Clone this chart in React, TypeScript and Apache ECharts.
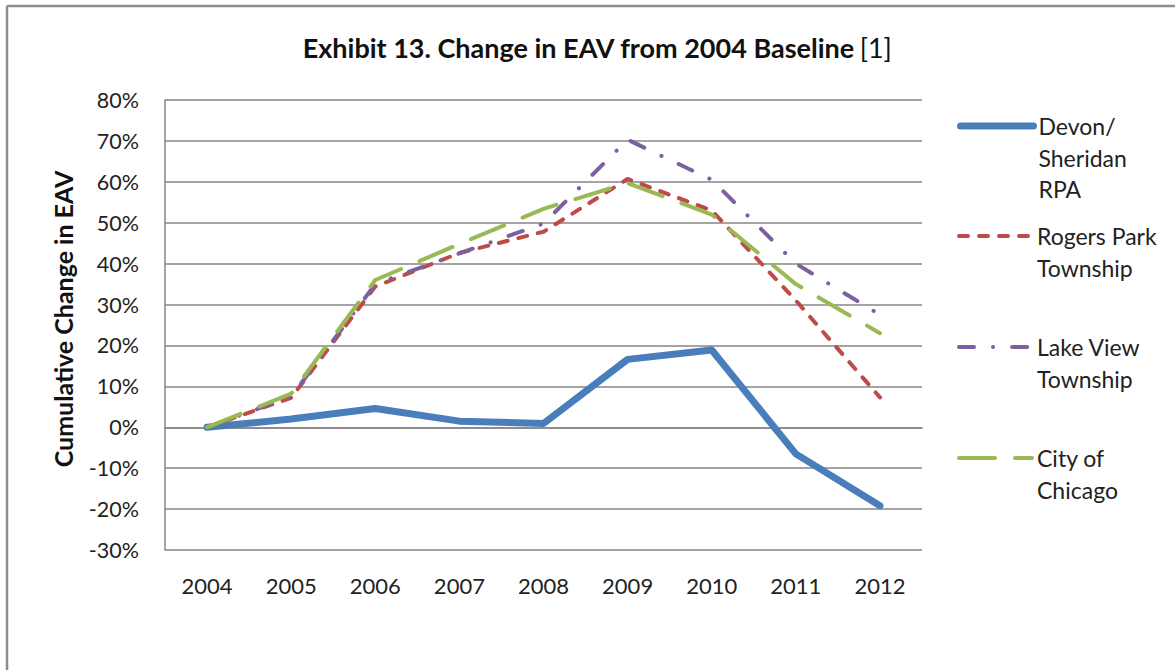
import React, { useEffect, useRef } from "react";
import * as echarts from "echarts";

const years = ["2004", "2005", "2006", "2007", "2008", "2009", "2010", "2011", "2012"];
const devonSheridan = [0, 2.0, 4.6, 1.5, 0.9, 16.6, 18.9, -6.5, -19.2];
const rogersPark = [0, 7.2, 34.4, 42.6, 47.8, 60.7, 53.0, 31.0, 7.3];
const lakeView = [0, 7.5, 35.0, 42.5, 49.8, 70.3, 60.5, 40.0, 27.5];
const cityOfChicago = [0, 8.2, 36.0, 44.8, 53.4, 59.7, 52.0, 35.0, 23.0];

const seriesNames = ["Devon/ Sheridan RPA", "Rogers Park Township", "Lake View Township", "City of Chicago"];
const legendLines = [["Devon/", "Sheridan", "RPA"], ["Rogers Park", "Township"], ["Lake View", "Township"], ["City of", "Chicago"]];
const yTicks = { min: -30, max: 80, interval: 10 };

const FONT = "Lato, 'Open Sans', sans-serif";
const L = 31.5;

export default function App() {
  const ref = useRef<HTMLDivElement>(null);
  useEffect(() => {
    if (!ref.current) return;
    const chart = echarts.init(ref.current, undefined, { renderer: "svg" });
    const legendTops = [126, 236, 347, 458];
    const legends = seriesNames.map((name, i) => {
      const lines = legendLines[i];
      const n = lines.length;
      return {
        data: [name],
        orient: "vertical",
        left: 957,
        top: legendTops[i] - ((2 * n - 1) * L) / 2,
        padding: 0,
        itemWidth: 73,
        itemHeight: 14,
        itemGap: 0,
        selectedMode: false,
        itemStyle: { opacity: 0, borderWidth: 0 },
        lineStyle: { width: "inherit", type: "inherit", cap: "round", opacity: 1 },
        formatter: () => "{sp| }\n" + lines.map((l) => "{t|" + l + "}").join("\n"),
        textStyle: {
          fontFamily: FONT,
          fontSize: 23,
          color: "#222",
          lineHeight: L,
          rich: {
            sp: { lineHeight: (n - 1) * L, height: (n - 1) * L, fontSize: 2 },
            t: { fontFamily: FONT, fontSize: 23, color: "#222", lineHeight: L },
          },
        },
      };
    });
    const mk = (name: string, data: number[], color: string, width: number, type: any, cap: string, z: number) => ({
      name,
      type: "line",
      data,
      symbol: "none",
      z,
      lineStyle: { color, width, type, cap, join: "round" },
      itemStyle: { color },
    });
    chart.setOption({
      animation: false,
      backgroundColor: "#ffffff",
      title: {
        text: "{b|Exhibit 13. Change in EAV from 2004 Baseline} {n|[1]}",
        left: 592,
        textAlign: "center",
        top: 29,
        textStyle: {
          rich: {
            b: { fontFamily: FONT, fontSize: 27, fontWeight: "bold", color: "#111" },
            n: { fontFamily: FONT, fontSize: 27, fontWeight: "normal", color: "#111" },
          },
        },
      },
      legend: legends,
      grid: { left: 165, top: 100, right: 253, bottom: 120, containLabel: false },
      xAxis: {
        type: "category",
        data: years,
        boundaryGap: true,
        axisLine: { show: true, lineStyle: { color: "#868686", width: 1.5 } },
        axisTick: { show: false },
        axisLabel: { fontFamily: FONT, fontSize: 22, color: "#222", margin: 24 },
      },
      yAxis: {
        type: "value",
        min: yTicks.min,
        max: yTicks.max,
        interval: yTicks.interval,
        name: "Cumulative Change in EAV",
        nameLocation: "middle",
        nameGap: 90,
        nameTextStyle: { fontFamily: FONT, fontSize: 25, fontWeight: "bold", color: "#111", padding: [0, 0, 0, 12] },
        axisLine: { show: true, lineStyle: { color: "#868686", width: 1.5 } },
        axisTick: { show: false },
        axisLabel: { fontFamily: FONT, fontSize: 21.5, color: "#222", margin: 26, formatter: "{value}%" },
        splitLine: { show: true, lineStyle: { color: "#868686", width: 1.5 } },
      },
      graphic: [
        { type: "line", shape: { x1: 7, y1: 6, x2: 1175, y2: 6 }, style: { stroke: "#8c8c8c", lineWidth: 2.5 } },
        { type: "line", shape: { x1: 7, y1: 6, x2: 7, y2: 670 }, style: { stroke: "#8c8c8c", lineWidth: 2.5 } },
      ],
      series: [
        mk(seriesNames[0], devonSheridan, "#4a7ebb", 7, "solid", "round", 2),
        mk(seriesNames[1], rogersPark, "#be4b48", 4, [9, 11], "round", 3),
        mk(seriesNames[2], lakeView, "#7d60a0", 4, [15, 19, 0.1, 19], "round", 4),
        mk(seriesNames[3], cityOfChicago, "#98b954", 4, [36, 20], "round", 5),
      ],
    });
    return () => chart.dispose();
  }, []);
  return <div ref={ref} style={{ position: "fixed", left: 0, top: 0, width: 1175, height: 670 }} />;
}
